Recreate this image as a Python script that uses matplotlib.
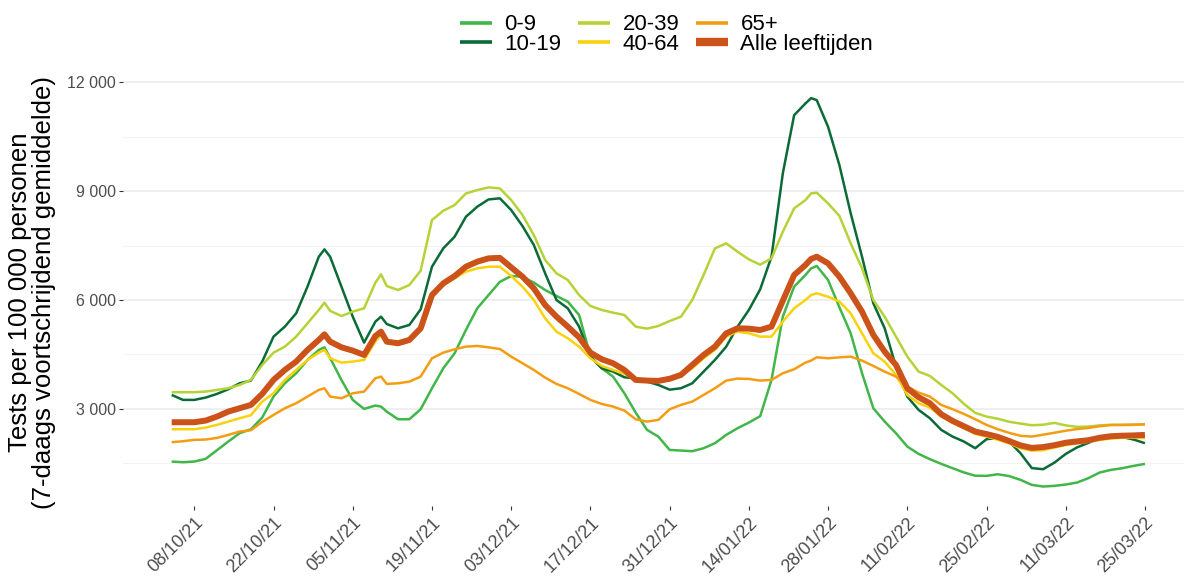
import datetime as dt
import matplotlib
matplotlib.use("Agg")
import matplotlib.pyplot as plt
import matplotlib.dates as mdates
from matplotlib.ticker import FuncFormatter, MultipleLocator

plt.rcParams['font.family'] = ['Liberation Sans', 'DejaVu Sans']

# day offsets from 04/10/2021
days = [0, 2, 4, 6, 8, 10, 12, 14, 16, 18, 20, 22, 24, 26, 27, 28, 30, 32, 34, 36, 37,
        38, 40, 42, 44, 46, 48, 50, 52, 54, 56, 58, 60, 62, 64, 66, 68, 70, 72, 74, 76,
        78, 80, 82, 84, 86, 88, 90, 92, 94, 96, 98, 100, 102, 104, 106, 108, 110, 112, 113,
        114, 116, 118, 120, 122, 124, 126, 128, 130, 132, 134, 136, 138, 140, 142, 144,
        146, 148, 150, 152, 154, 156, 158, 160, 162, 164, 166, 168, 170, 172]

age_0_9 = [1550, 1532, 1550, 1624, 1862, 2101, 2330, 2440, 2762, 3339, 3706, 3982, 4348, 4624,
           4697, 4400, 3798, 3248, 3000, 3092, 3064,
           2926, 2715, 2715, 2991, 3569, 4119, 4532, 5174, 5770, 6137, 6500, 6660, 6642, 6477,
           6275, 6110, 5954, 5587, 4450, 4119, 3890, 3431, 2899, 2422, 2238, 1870, 1853, 1835,
           1917, 2055, 2284, 2468, 2624, 2800, 3798, 5541, 6367, 6688, 6871,
           6936, 6550, 5800, 5082, 3982, 3018, 2651, 2330, 1963, 1761, 1615, 1486, 1367, 1250,
           1160, 1156, 1200, 1150, 1046, 908, 862, 881, 917, 972, 1092, 1248, 1321, 1367, 1431, 1486]

age_10_19 = [3385, 3248, 3248, 3312, 3413, 3541, 3706, 3780, 4303, 4991, 5266, 5633, 6367, 7192,
             7394, 7192, 6367, 5541, 4826, 5404, 5541,
             5339, 5220, 5312, 5743, 6917, 7422, 7743, 8293, 8569, 8770, 8800, 8477, 8036, 7513,
             6734, 6000, 5770, 5266, 4440, 4119, 4027, 3871, 3844, 3752, 3660, 3530, 3569, 3706,
             4027, 4348, 4715, 5266, 5725, 6293, 7192, 9486, 11091, 11413, 11560,
             11504, 10770, 9715, 8385, 7192, 5908, 5220, 4165, 3339, 2972, 2743, 2422, 2238, 2101,
             1917, 2165, 2200, 2100, 1780, 1370, 1339, 1520, 1760, 1940, 2065, 2193, 2248, 2225,
             2156, 2055]

age_20_39 = [3459, 3459, 3459, 3477, 3523, 3569, 3661, 3798, 4211, 4550, 4715, 4991, 5358, 5725,
             5926, 5700, 5559, 5679, 5770, 6480, 6706,
             6385, 6275, 6413, 6807, 8202, 8458, 8614, 8935, 9027, 9101, 9073, 8752, 8339, 7789,
             7101, 6734, 6550, 6137, 5835, 5725, 5651, 5587, 5266, 5211, 5284, 5420, 5541, 6000,
             6688, 7422, 7559, 7330, 7119, 6972, 7147, 7880, 8523, 8752, 8935,
             8954, 8660, 8316, 7559, 6871, 6000, 5541, 4991, 4440, 4027, 3908, 3660, 3431, 3140,
             2890, 2789, 2729, 2646, 2596, 2550, 2565, 2615, 2546, 2505, 2514, 2546, 2564, 2565,
             2569, 2583]

age_40_64 = [2440, 2440, 2440, 2486, 2560, 2651, 2743, 2826, 3202, 3431, 3798, 4073, 4348, 4550,
             4624, 4394, 4275, 4303, 4348, 4860, 5037,
             4853, 4853, 4945, 5220, 6137, 6413, 6596, 6780, 6871, 6917, 6917, 6660, 6367, 6000,
             5495, 5128, 4945, 4715, 4394, 4183, 4073, 3963, 3816, 3780, 3761, 3808, 3908, 4119,
             4394, 4624, 4991, 5128, 5082, 4991, 4991, 5403, 5770, 6000, 6137,
             6183, 6091, 5954, 5633, 5082, 4532, 4303, 3936, 3385, 3156, 3037, 2789, 2624, 2468,
             2312, 2238, 2150, 2050, 1917, 1850, 1862, 1936, 2005, 2050, 2096, 2147, 2183, 2206,
             2206, 2198]

age_65_plus = [2083, 2110, 2147, 2156, 2201, 2284, 2376, 2413, 2642, 2835, 3018, 3156, 3339, 3523,
               3569, 3339, 3293, 3431, 3477, 3844, 3890,
               3688, 3706, 3752, 3890, 4394, 4550, 4642, 4715, 4734, 4697, 4650, 4440, 4257, 4073,
               3862, 3688, 3569, 3413, 3248, 3137, 3064, 2954, 2715, 2651, 2697, 2990, 3110, 3202,
               3385, 3569, 3780, 3835, 3826, 3780, 3798, 3982, 4092, 4275, 4330,
               4422, 4394, 4420, 4440, 4330, 4183, 4027, 3890, 3615, 3449, 3339, 3110, 2991, 2862,
               2715, 2560, 2440, 2340, 2260, 2238, 2290, 2344, 2399, 2445, 2477, 2523, 2555, 2555,
               2560, 2573]

alle = [2633, 2633, 2633, 2679, 2789, 2926, 3018, 3110, 3413, 3798, 4073, 4303, 4624, 4899,
        5055, 4853, 4697, 4605, 4486, 5009, 5128,
        4853, 4807, 4899, 5220, 6137, 6458, 6660, 6917, 7055, 7147, 7160, 6899, 6642, 6321,
        5862, 5541, 5266, 4972, 4550, 4367, 4257, 4073, 3798, 3780, 3771, 3830, 3936, 4211,
        4486, 4715, 5082, 5220, 5211, 5174, 5266, 5981, 6688, 6963, 7130,
        7192, 7009, 6642, 6183, 5679, 5037, 4578, 4211, 3569, 3321, 3156, 2853, 2670, 2523,
        2377, 2307, 2229, 2115, 1995, 1926, 1950, 2000, 2069, 2105, 2138, 2206, 2248, 2262,
        2270, 2284]

labels = ['0-9', '10-19', '20-39', '40-64', '65+', 'Alle leeftijden']
colors = ['#41b649', '#0b6b37', '#b4d336', '#f9d20c', '#f49d14', '#cb5219']

start = dt.datetime(2021, 10, 4)
dates = [start + dt.timedelta(days=d) for d in days]
series = [age_0_9, age_10_19, age_20_39, age_40_64, age_65_plus, alle]

fig = plt.figure(figsize=(11.84, 5.8), dpi=100)
ax = fig.add_axes([0.1039, 0.1276, 0.8961, 0.7379])

for vals, lab, col in zip(series, labels, colors):
    lw = 4.3 if lab == 'Alle leeftijden' else 1.8
    ax.plot(dates, vals, color=col, lw=lw, label=lab,
            solid_joinstyle='round', solid_capstyle='butt')

ax.set_xlim(start - dt.timedelta(days=8.6), start + dt.timedelta(days=178.9))
ax.set_ylim(326, 12114)

ax.yaxis.set_major_locator(MultipleLocator(3000))
ax.yaxis.set_minor_locator(MultipleLocator(1500))
ax.yaxis.set_major_formatter(FuncFormatter(lambda v, p: f"{int(v):,}".replace(",", " ")))
ax.grid(axis='y', which='major', color='#ebebeb', lw=1.1)
ax.grid(axis='y', which='minor', color='#f3f3f3', lw=0.8)
ax.grid(axis='x', visible=False)
ax.set_axisbelow(True)

tick_dates = [dt.datetime(2021, 10, 8) + dt.timedelta(days=14 * i) for i in range(13)]
ax.set_xticks(tick_dates)
ax.xaxis.set_major_formatter(mdates.DateFormatter('%d/%m/%y'))
plt.setp(ax.get_xticklabels(), rotation=45, ha='right', rotation_mode='anchor')

for s in ax.spines.values():
    s.set_visible(False)
ax.tick_params(axis='both', which='major', colors='#333333', length=3, width=0.8,
               labelcolor='#4d4d4d')
ax.tick_params(axis='y', which='minor', length=0)
ax.tick_params(axis='y', labelsize=11.5, pad=2)
ax.tick_params(axis='x', labelsize=13, pad=3)

ax.set_ylabel('Tests per 100 000 personen\n(7-daags voortschrijdend gemiddelde)',
              fontsize=18.5, color='black', labelpad=8, linespacing=1.0)

leg = fig.legend(loc='center', bbox_to_anchor=(0.563, 0.94), ncol=3, frameon=False,
                 fontsize=16, handlelength=1.45, handletextpad=0.55, columnspacing=0.75,
                 labelspacing=-0.05)
for line in leg.get_lines():
    line.set_linewidth(6.0 if line.get_label() == 'Alle leeftijden' else 2.6)

fig.savefig('out.png', dpi=100)
